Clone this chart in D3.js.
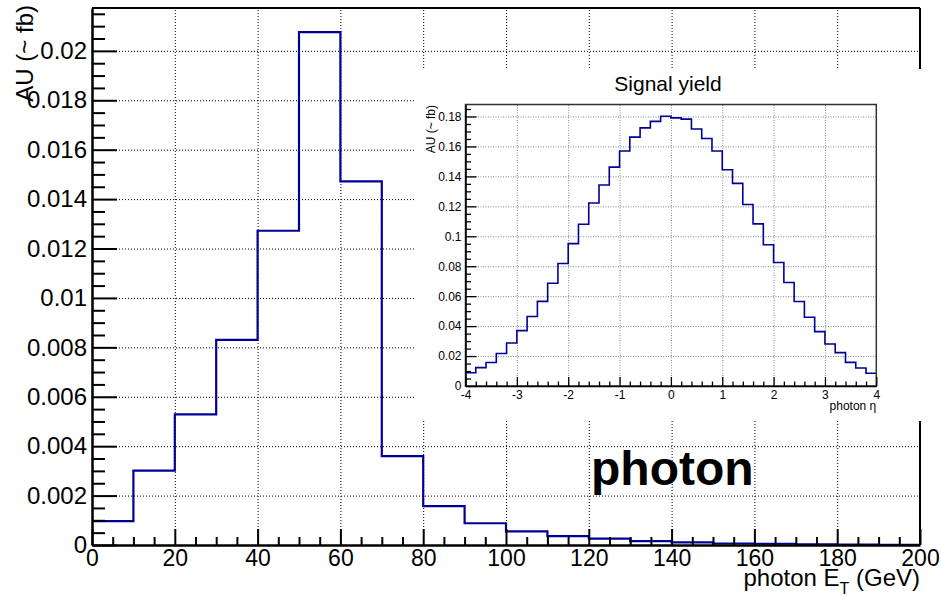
<!DOCTYPE html>
<html><head><meta charset="utf-8">
<script src="https://cdn.jsdelivr.net/npm/d3@7"></script>
<style>
body{margin:0;background:#fff;}
svg{display:block;font-family:"Liberation Sans",Arial,sans-serif;}
</style></head>
<body><svg id="c" width="941" height="596"></svg>
<script>
// ---------- main histogram: photon ET ----------
const etBinLow = [0,10,20,30,40,50,60,70,80,90,100,110,120,130,140,150,160,170,180,190];
const etBinWidth = 10;
const etValues = [0.00097,0.00301,0.00529,0.0083,0.01272,0.02076,0.01472,0.0036,0.00157,0.00088,
                  0.00055,0.00036,0.00026,0.00016,0.00011,0.00006,0.00005,0.00003,0.00002,0.00001];
const etXTicks = [0,20,40,60,80,100,120,140,160,180,200];
const etYTicks = [0,0.002,0.004,0.006,0.008,0.01,0.012,0.014,0.016,0.018,0.02];
const etYLabels = ["0","0.002","0.004","0.006","0.008","0.01","0.012","0.014","0.016","0.018","0.02"];

// ---------- inset histogram: photon eta ----------
const etaBinLow = [-4,-3.8,-3.6,-3.4,-3.2,-3,-2.8,-2.6,-2.4,-2.2,-2,-1.8,-1.6,-1.4,-1.2,-1,-0.8,-0.6,-0.4,-0.2,
                   0,0.2,0.4,0.6,0.8,1,1.2,1.4,1.6,1.8,2,2.2,2.4,2.6,2.8,3,3.2,3.4,3.6,3.8];
const etaBinWidth = 0.2;
const etaValues = [0.0088,0.0123,0.0157,0.0217,0.0287,0.0370,0.0464,0.0565,0.0686,0.0818,
                   0.0951,0.1080,0.1222,0.1342,0.1462,0.1569,0.1662,0.1724,0.1767,0.1802,
                   0.1791,0.1782,0.1716,0.1653,0.1569,0.1444,0.1353,0.1212,0.1083,0.0943,
                   0.0825,0.0691,0.0564,0.0459,0.0363,0.0281,0.0223,0.0158,0.0120,0.0085];
const etaXTicks = [-4,-3,-2,-1,0,1,2,3,4];
const etaXLabels = ["-4","-3","-2","-1","0","1","2","3","4"];
const etaYTicks = [0,0.02,0.04,0.06,0.08,0.1,0.12,0.14,0.16,0.18];
const etaYLabels = ["0","0.02","0.04","0.06","0.08","0.1","0.12","0.14","0.16","0.18"];

const svg = d3.select("#c");
const histColor = "#000099";

// ---------- main frame ----------
const M = {l:92, r:920, t:8, b:545};
const x = d3.scaleLinear().domain([0,200]).range([M.l, M.r]);
const y = d3.scaleLinear().domain([0,0.021735]).range([M.b, M.t]);

// grid
svg.append("g").attr("transform",`translate(0,${M.b})`)
  .call(d3.axisBottom(x).tickValues(etXTicks.filter(v=>v>0 && v<200)).tickSize(-(M.b-M.t)).tickFormat(""))
  .call(g=>g.select(".domain").remove())
  .selectAll("line").attr("stroke","#000").attr("stroke-width",1).attr("stroke-dasharray","1,2");
svg.append("g").attr("transform",`translate(${M.l},0)`)
  .call(d3.axisLeft(y).tickValues(etYTicks.filter(v=>v>0)).tickSize(-(M.r-M.l)).tickFormat(""))
  .call(g=>g.select(".domain").remove())
  .selectAll("line").attr("stroke","#000").attr("stroke-width",1).attr("stroke-dasharray","1,2");

// histogram
const etPts = etBinLow.map((b,i)=>[b, etValues[i]]);
etPts.push([etBinLow[etBinLow.length-1]+etBinWidth, etValues[etValues.length-1]]);
svg.append("path").datum(etPts)
  .attr("d", d3.line().x(d=>x(d[0])).y(d=>y(d[1])).curve(d3.curveStepAfter))
  .attr("fill","none").attr("stroke",histColor).attr("stroke-width",2.2);

// frame top/right
svg.append("line").attr("x1",M.l).attr("x2",M.r).attr("y1",M.t).attr("y2",M.t).attr("stroke","#000").attr("stroke-width",2);
svg.append("line").attr("x1",M.r).attr("x2",M.r).attr("y1",M.t).attr("y2",M.b).attr("stroke","#000").attr("stroke-width",2);

// minor ticks
const minorX = d3.range(0,201,5).filter(v=>v%20!==0);
svg.append("g").attr("transform",`translate(0,${M.b})`)
  .call(d3.axisBottom(x).tickValues(minorX).tickSize(-8).tickFormat(""))
  .call(g=>g.select(".domain").remove())
  .selectAll("line").attr("stroke","#000").attr("stroke-width",2);
const minorY = d3.range(0,0.0217,0.0005).filter((v,i)=>i%4!==0);
svg.append("g").attr("transform",`translate(${M.l},0)`)
  .call(d3.axisLeft(y).tickValues(minorY).tickSize(-13).tickFormat(""))
  .call(g=>g.select(".domain").remove())
  .selectAll("line").attr("stroke","#000").attr("stroke-width",2);

// major axes
const gx = svg.append("g").attr("transform",`translate(0,${M.b})`)
  .call(d3.axisBottom(x).tickValues(etXTicks).tickSize(-16).tickSizeOuter(0).tickPadding(5).tickFormat(d=>String(d)));
gx.select(".domain").attr("stroke","#000").attr("stroke-width",2.5);
gx.selectAll("line").attr("stroke","#000").attr("stroke-width",2);
gx.selectAll("text").attr("font-size",23).attr("fill","#000").attr("font-family","Liberation Sans,Arial,sans-serif");

const gy = svg.append("g").attr("transform",`translate(${M.l},0)`)
  .call(d3.axisLeft(y).tickValues(etYTicks).tickSize(-25).tickSizeOuter(0).tickPadding(5)
        .tickFormat((d,i)=>etYLabels[i]));
gy.select(".domain").attr("stroke","#000").attr("stroke-width",2.5);
gy.selectAll("line").attr("stroke","#000").attr("stroke-width",2);
gy.selectAll("text").attr("font-size",24).attr("fill","#000").attr("font-family","Liberation Sans,Arial,sans-serif");

// axis titles
const xt = svg.append("text").attr("x",M.r).attr("y",586).attr("text-anchor","end")
  .attr("font-size",24).attr("fill","#000");
xt.append("tspan").text("photon E");
xt.append("tspan").attr("font-size",16).attr("dy",8).text("T");
xt.append("tspan").attr("dy",-8).text(" (GeV)");

svg.append("text").attr("transform","translate(33,5) rotate(-90)").attr("text-anchor","end")
  .attr("font-size",24).attr("fill","#000").text("AU (~ fb)");

// big label
svg.append("text").attr("x",591).attr("y",485).attr("font-size",48).attr("font-weight","bold")
  .attr("fill","#000").text("photon");

// ---------- inset pad ----------
svg.append("rect").attr("x",415).attr("y",69).attr("width",941-415).attr("height",421-69).attr("fill","#fff");

const I = {l:465.5, r:876.3, t:104.5, b:386};
const xi = d3.scaleLinear().domain([-4,4]).range([I.l, I.r]);
const yi = d3.scaleLinear().domain([0,0.188]).range([I.b, I.t]);

svg.append("g").attr("transform",`translate(0,${I.b})`)
  .call(d3.axisBottom(xi).tickValues(etaXTicks.filter(v=>v>-4 && v<4)).tickSize(-(I.b-I.t)).tickFormat(""))
  .call(g=>g.select(".domain").remove())
  .selectAll("line").attr("stroke","#888").attr("stroke-width",1).attr("stroke-dasharray","1,1.5");
svg.append("g").attr("transform",`translate(${I.l},0)`)
  .call(d3.axisLeft(yi).tickValues(etaYTicks.filter(v=>v>0)).tickSize(-(I.r-I.l)).tickFormat(""))
  .call(g=>g.select(".domain").remove())
  .selectAll("line").attr("stroke","#888").attr("stroke-width",1).attr("stroke-dasharray","1,1.5");

const etaPts = etaBinLow.map((b,i)=>[b, etaValues[i]]);
etaPts.push([etaBinLow[etaBinLow.length-1]+etaBinWidth, etaValues[etaValues.length-1]]);
svg.append("path").datum(etaPts)
  .attr("d", d3.line().x(d=>xi(d[0])).y(d=>yi(d[1])).curve(d3.curveStepAfter))
  .attr("fill","none").attr("stroke",histColor).attr("stroke-width",1.6);

// inset frame
svg.append("rect").attr("x",I.l).attr("y",I.t).attr("width",I.r-I.l).attr("height",I.b-I.t)
  .attr("fill","none").attr("stroke","#333").attr("stroke-width",1.5);

// inset minor ticks
const minorEta = etaBinLow.filter(v=>Math.abs(v-Math.round(v))>1e-6);
svg.append("g").attr("transform",`translate(0,${I.b})`)
  .call(d3.axisBottom(xi).tickValues(minorEta).tickSize(-4.5).tickFormat(""))
  .call(g=>g.select(".domain").remove())
  .selectAll("line").attr("stroke","#000").attr("stroke-width",1.3);
const minorEtaY = d3.range(0,0.188,0.005).filter((v,i)=>i%4!==0);
svg.append("g").attr("transform",`translate(${I.l},0)`)
  .call(d3.axisLeft(yi).tickValues(minorEtaY).tickSize(-5.5).tickFormat(""))
  .call(g=>g.select(".domain").remove())
  .selectAll("line").attr("stroke","#000").attr("stroke-width",1.3);

const gxi = svg.append("g").attr("transform",`translate(0,${I.b})`)
  .call(d3.axisBottom(xi).tickValues(etaXTicks).tickSize(-9).tickSizeOuter(0).tickPadding(4)
        .tickFormat((d,i)=>etaXLabels[i]));
gxi.select(".domain").attr("stroke","#000").attr("stroke-width",1.5);
gxi.selectAll("line").attr("stroke","#000").attr("stroke-width",1.3);
gxi.selectAll("text").attr("font-size",12).attr("fill","#000").attr("font-family","Liberation Sans,Arial,sans-serif");

const gyi = svg.append("g").attr("transform",`translate(${I.l},0)`)
  .call(d3.axisLeft(yi).tickValues(etaYTicks).tickSize(-11).tickSizeOuter(0).tickPadding(4)
        .tickFormat((d,i)=>etaYLabels[i]));
gyi.select(".domain").attr("stroke","#000").attr("stroke-width",1.5);
gyi.selectAll("line").attr("stroke","#000").attr("stroke-width",1.3);
gyi.selectAll("text").attr("font-size",12).attr("fill","#000").attr("font-family","Liberation Sans,Arial,sans-serif");

svg.append("text").attr("x",668).attr("y",91).attr("text-anchor","middle")
  .attr("font-size",21).attr("fill","#000").text("Signal yield");
svg.append("text").attr("x",I.r).attr("y",410).attr("text-anchor","end")
  .attr("font-size",12).attr("fill","#000").text("photon η");
svg.append("text").attr("transform","translate(435,105) rotate(-90)").attr("text-anchor","end")
  .attr("font-size",12).attr("fill","#000").text("AU (~ fb)");
</script></body></html>
